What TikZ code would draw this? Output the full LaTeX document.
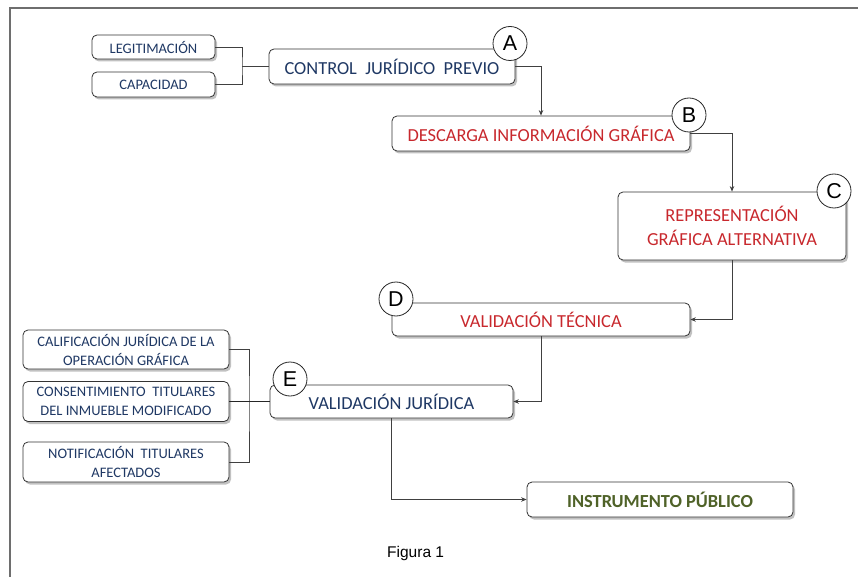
\documentclass[tikz,border=0pt]{standalone}
\usepackage{fontspec}
\setmainfont{Carlito}
\newfontfamily\arialfont{Liberation Sans}
\usetikzlibrary{shadows,arrows.meta}
\definecolor{navytext}{HTML}{1F3864}
\definecolor{redtext}{HTML}{C8282D}
\definecolor{greentext}{HTML}{4F6228}
\definecolor{framegray}{HTML}{6E6E6E}
\begin{document}
\begin{tikzpicture}[x=1pt,y=-1pt,
  box/.style={draw=black!80, rounded corners=5pt, fill=white, line width=0.8pt,
    drop shadow={shadow xshift=2pt,shadow yshift=-2.5pt,opacity=0.4,fill=black!60},
    align=center, inner sep=0pt},
  mainbox/.style={box, font=\fontsize{18.4}{24}\selectfont},
  smallbox/.style={box, text=navytext, font=\fontsize{14.5}{19}\selectfont},
  tag/.style={circle, draw=black!85, fill=white, line width=0.8pt, minimum size=34pt,
    inner sep=0pt, font=\arialfont\fontsize{21.5}{21.5}\selectfont},
  link/.style={draw=black!75, line width=0.8pt},
  thicklink/.style={draw=black!85, line width=1.6pt},
  arr/.style={link, -{Stealth[length=5.5pt,width=4.5pt]}}]
\useasboundingbox (0,0) rectangle (858,577);
\fill[white] (0,0) rectangle (858,577);

% page frame (left and top edges)
\draw[framegray, line width=1.5pt] (10,577) -- (10,8) -- (858,8);

% boxes
\node[smallbox, minimum width=123pt, minimum height=24pt] (legit) at (153.5,47) {LEGITIMACIÓN};
\node[smallbox, minimum width=123pt, minimum height=25pt] (capac) at (153.5,84.5) {CAPACIDAD};
\node[mainbox, text=navytext, minimum width=246pt, minimum height=35pt] (control) at (392,66.5) {CONTROL\ \ JURÍDICO\ \ PREVIO};
\node[mainbox, text=redtext, minimum width=298pt, minimum height=35pt] (descarga) at (541,133.5) {DESCARGA INFORMACIÓN GRÁFICA};
\node[mainbox, text=redtext, minimum width=228pt, minimum height=68pt] (repres) at (732,226) {REPRESENTACIÓN\\GRÁFICA ALTERNATIVA};
\node[mainbox, text=redtext, minimum width=298pt, minimum height=33pt] (vtec) at (541,319.5) {VALIDACIÓN TÉCNICA};
\node[mainbox, text=navytext, minimum width=243pt, minimum height=33pt] (vjur) at (391.5,401.5) {VALIDACIÓN JURÍDICA};
\node[mainbox, text=greentext, font=\fontsize{18.4}{24}\selectfont\bfseries, minimum width=266pt, minimum height=35pt] (instr) at (660,499.5) {INSTRUMENTO PÚBLICO};
\node[smallbox, minimum width=206pt, minimum height=39pt] (calif) at (126,349.5) {CALIFICACIÓN JURÍDICA DE LA\\OPERACIÓN GRÁFICA};
\node[smallbox, minimum width=206pt, minimum height=40pt] (consent) at (126,401.5) {CONSENTIMIENTO\ \ TITULARES\\DEL INMUEBLE MODIFICADO};
\node[smallbox, minimum width=206pt, minimum height=40pt] (notif) at (126,462) {NOTIFICACIÓN\ \ TITULARES\\AFECTADOS};

% joins on the left
\coordinate (jtop) at (242,66.5);
\draw[link] (legit.east) -| (jtop) |- (capac.east);
\draw[link] (jtop) -- (control.west);
\coordinate (jbot) at (249,401.5);
\draw[link] (calif.east) -| (jbot) |- (notif.east);
\draw[thicklink] (consent.east) -- (jbot) -- (vjur.west);

% main flow
\draw[arr] (control.east) -| (descarga.north);
\draw[arr] (descarga.east) -| (repres.north);
\draw[arr] (repres.south) |- (vtec.east);
\draw[arr] (vtec.south) |- (vjur.east);
\draw[arr] (vjur.south) |- (instr.west);

% step tags
\node[tag] (tagA) at (510,43.5) {A};
\node[tag] (tagB) at (689,115) {B};
\node[tag] (tagC) at (834,191) {C};
\node[tag] (tagD) at (396,299) {D};
\node[tag] (tagE) at (290,379) {E};

% caption
\node[font=\arialfont\fontsize{15.5}{15.5}\selectfont, anchor=base west, inner sep=0pt] (caption) at (387,557) {Figura 1};
\end{tikzpicture}
\end{document}
